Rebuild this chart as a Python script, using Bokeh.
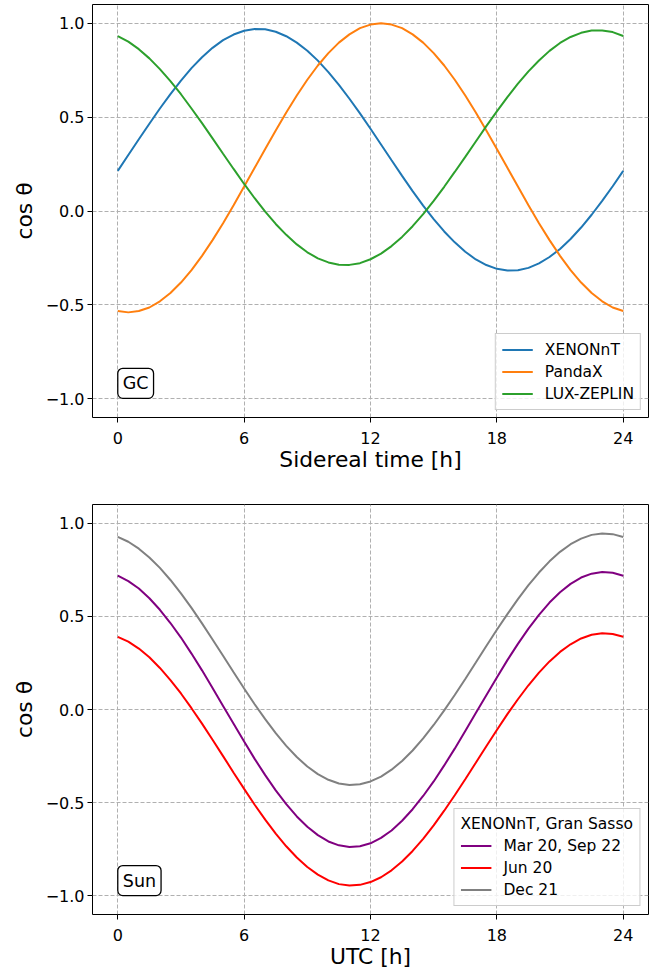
from bokeh.plotting import figure
from bokeh.models import Range1d, FixedTicker, CustomJSTickFormatter, Legend, LegendItem, Label
from bokeh.layouts import column
from bokeh.embed import file_html
from bokeh.resources import INLINE

# ---------------- data ----------------
sidereal_hours = [i * 0.5 for i in range(49)]
xenonnt = [0.214, 0.298, 0.382, 0.465, 0.546, 0.623, 0.695, 0.761, 0.819, 0.869,
           0.910, 0.940, 0.960, 0.969, 0.968, 0.955, 0.931, 0.897, 0.854, 0.801,
           0.740, 0.672, 0.598, 0.520, 0.438, 0.354, 0.270, 0.187, 0.106, 0.029,
           -0.043, -0.109, -0.167, -0.217, -0.258, -0.288, -0.308, -0.317, -0.316, -0.303,
           -0.279, -0.245, -0.202, -0.149, -0.088, -0.020, 0.054, 0.132, 0.214]
pandax = [-0.533, -0.540, -0.533, -0.514, -0.481, -0.437, -0.381, -0.315, -0.239, -0.155,
          -0.065, 0.031, 0.130, 0.230, 0.330, 0.429, 0.525, 0.615, 0.699, 0.775,
          0.841, 0.897, 0.941, 0.974, 0.993, 1.000, 0.993, 0.974, 0.941, 0.897,
          0.841, 0.775, 0.699, 0.615, 0.525, 0.429, 0.330, 0.230, 0.130, 0.031,
          -0.065, -0.155, -0.239, -0.315, -0.381, -0.437, -0.481, -0.514, -0.533]
lux_zeplin = [0.932, 0.902, 0.862, 0.813, 0.756, 0.692, 0.622, 0.546, 0.468, 0.387,
              0.305, 0.224, 0.144, 0.068, -0.003, -0.069, -0.127, -0.178, -0.220, -0.252,
              -0.274, -0.286, -0.287, -0.278, -0.257, -0.227, -0.187, -0.138, -0.081, -0.017,
              0.054, 0.129, 0.208, 0.288, 0.370, 0.452, 0.531, 0.607, 0.678, 0.744,
              0.802, 0.853, 0.895, 0.927, 0.949, 0.961, 0.962, 0.953, 0.932]

utc_hours = [i * 0.5 for i in range(49)]
equinox = [0.718, 0.689, 0.649, 0.597, 0.535, 0.464, 0.386, 0.300, 0.210, 0.115,
           0.019, -0.077, -0.172, -0.265, -0.352, -0.434, -0.508, -0.574, -0.629, -0.674,
           -0.708, -0.729, -0.738, -0.734, -0.718, -0.689, -0.649, -0.597, -0.535, -0.464,
           -0.386, -0.300, -0.210, -0.115, -0.019, 0.077, 0.172, 0.265, 0.352, 0.434,
           0.508, 0.574, 0.629, 0.674, 0.708, 0.729, 0.738, 0.734, 0.718]
jun20 = [0.390, 0.364, 0.327, 0.280, 0.223, 0.158, 0.086, 0.007, -0.076, -0.162,
         -0.250, -0.339, -0.426, -0.511, -0.591, -0.666, -0.734, -0.794, -0.845, -0.886,
         -0.917, -0.937, -0.945, -0.941, -0.926, -0.900, -0.863, -0.816, -0.759, -0.694,
         -0.622, -0.543, -0.460, -0.374, -0.286, -0.197, -0.110, -0.025, 0.055, 0.130,
         0.198, 0.258, 0.309, 0.350, 0.381, 0.401, 0.409, 0.405, 0.390]
dec21 = [0.926, 0.900, 0.863, 0.816, 0.760, 0.695, 0.623, 0.545, 0.462, 0.376,
         0.288, 0.200, 0.113, 0.028, -0.052, -0.127, -0.195, -0.255, -0.306, -0.347,
         -0.377, -0.397, -0.405, -0.401, -0.386, -0.360, -0.323, -0.276, -0.220, -0.155,
         -0.083, -0.005, 0.078, 0.164, 0.252, 0.341, 0.428, 0.512, 0.592, 0.667,
         0.735, 0.795, 0.846, 0.887, 0.917, 0.937, 0.945, 0.941, 0.926]

top_labels = ["XENONnT", "PandaX", "LUX-ZEPLIN"]
bottom_labels = ["Mar 20, Sep 22", "Jun 20", "Dec 21"]
bottom_legend_title = "XENONnT, Gran Sasso"
x_ticks = [0, 6, 12, 18, 24]
y_ticks = [-1.0, -0.5, 0.0, 0.5, 1.0]

FONT = "DejaVu Sans"
TICK_SIZE = "16px"
AXIS_LABEL_SIZE = "21.8px"
LEGEND_SIZE = "15.5px"
BOX_SIZE = "17.5px"


def make_fig(height, border_top, border_bottom, xlabel):
    p = figure(width=660, height=height, output_backend="svg", toolbar_location=None,
               x_range=Range1d(-1.2, 25.2), y_range=Range1d(-1.1, 1.1),
               min_border_left=92, min_border_right=12,
               min_border_top=border_top, min_border_bottom=border_bottom)
    p.background_fill_color = "white"
    p.border_fill_color = "white"
    p.outline_line_color = "black"
    p.outline_line_width = 1
    p.outline_line_alpha = 1.0

    p.xaxis.ticker = FixedTicker(ticks=x_ticks)
    p.yaxis.ticker = FixedTicker(ticks=y_ticks)
    p.xgrid.ticker = FixedTicker(ticks=x_ticks)
    p.ygrid.ticker = FixedTicker(ticks=y_ticks)
    p.yaxis.formatter = CustomJSTickFormatter(
        code="return (tick < 0 ? '\u2212' : '') + Math.abs(tick).toFixed(1);")

    for ax in (p.xaxis, p.yaxis):
        ax.axis_line_color = None
        ax.major_tick_out = 5
        ax.major_tick_in = 0
        ax.major_tick_line_color = "black"
        ax.major_tick_line_width = 1
        ax.minor_tick_line_color = None
        ax.major_label_text_font = FONT
        ax.major_label_text_font_size = TICK_SIZE
        ax.major_label_text_color = "black"
        ax.axis_label_text_font = FONT
        ax.axis_label_text_font_size = AXIS_LABEL_SIZE
        ax.axis_label_text_font_style = "normal"
        ax.axis_label_text_color = "black"
    p.xaxis.major_label_standoff = 9
    p.xaxis.axis_label_standoff = 0
    p.yaxis.major_label_standoff = 3
    p.yaxis.axis_label_standoff = 6
    p.xaxis.axis_label = xlabel
    p.yaxis.axis_label = "cos θ"

    p.grid.grid_line_color = "#b0b0b0"
    p.grid.grid_line_dash = "4 2"
    p.grid.grid_line_width = 1
    return p


def style_legend(leg):
    leg.location = "bottom_right"
    leg.margin = 7
    leg.padding = 6
    leg.spacing = 3
    leg.glyph_width = 31
    leg.glyph_height = 19
    leg.label_height = 19
    leg.label_standoff = 12
    leg.label_text_font = FONT
    leg.label_text_font_size = LEGEND_SIZE
    leg.label_text_color = "black"
    leg.background_fill_color = "white"
    leg.background_fill_alpha = 0.8
    leg.border_line_color = "#cccccc"
    leg.border_line_width = 1
    leg.border_line_alpha = 1.0


def box_label(text, y):
    return Label(x=0, y=y, x_offset=0, text=text, text_font=FONT, text_font_size=BOX_SIZE,
                 text_align="left", text_baseline="middle", text_color="black",
                 padding=5, border_radius=5,
                 border_line_color="black", border_line_width=1.3,
                 background_fill_color="white", background_fill_alpha=1.0)


# ---------------- top panel ----------------
p1 = make_fig(4 + 413 + 60, 4, 60, "Sidereal time [h]")
r1 = p1.line(sidereal_hours, xenonnt, line_color="#1f77b4", line_width=2)
r2 = p1.line(sidereal_hours, pandax, line_color="#ff7f0e", line_width=2)
r3 = p1.line(sidereal_hours, lux_zeplin, line_color="#2ca02c", line_width=2)
leg1 = Legend(items=[LegendItem(label=top_labels[0], renderers=[r1]),
                     LegendItem(label=top_labels[1], renderers=[r2]),
                     LegendItem(label=top_labels[2], renderers=[r3])])
style_legend(leg1)
p1.add_layout(leg1)
p1.add_layout(box_label("GC", -0.918))

# ---------------- bottom panel ----------------
p2 = make_fig(27 + 411 + 56, 27, 56, "UTC [h]")
s1 = p2.line(utc_hours, equinox, line_color="#800080", line_width=2)
s2 = p2.line(utc_hours, jun20, line_color="#ff0000", line_width=2)
s3 = p2.line(utc_hours, dec21, line_color="#808080", line_width=2)
leg2 = Legend(items=[LegendItem(label=bottom_labels[0], renderers=[s1]),
                     LegendItem(label=bottom_labels[1], renderers=[s2]),
                     LegendItem(label=bottom_labels[2], renderers=[s3])])
style_legend(leg2)
leg2.margin = 8
leg2.title = bottom_legend_title
leg2.title_text_font = FONT
leg2.title_text_font_size = LEGEND_SIZE
leg2.title_text_font_style = "normal"
leg2.title_text_color = "black"
leg2.title_standoff = 3
p2.add_layout(leg2)
p2.add_layout(box_label("Sun", -0.918))

layout = column(p1, p2)
open("out.html", "w").write(file_html(layout, INLINE))
